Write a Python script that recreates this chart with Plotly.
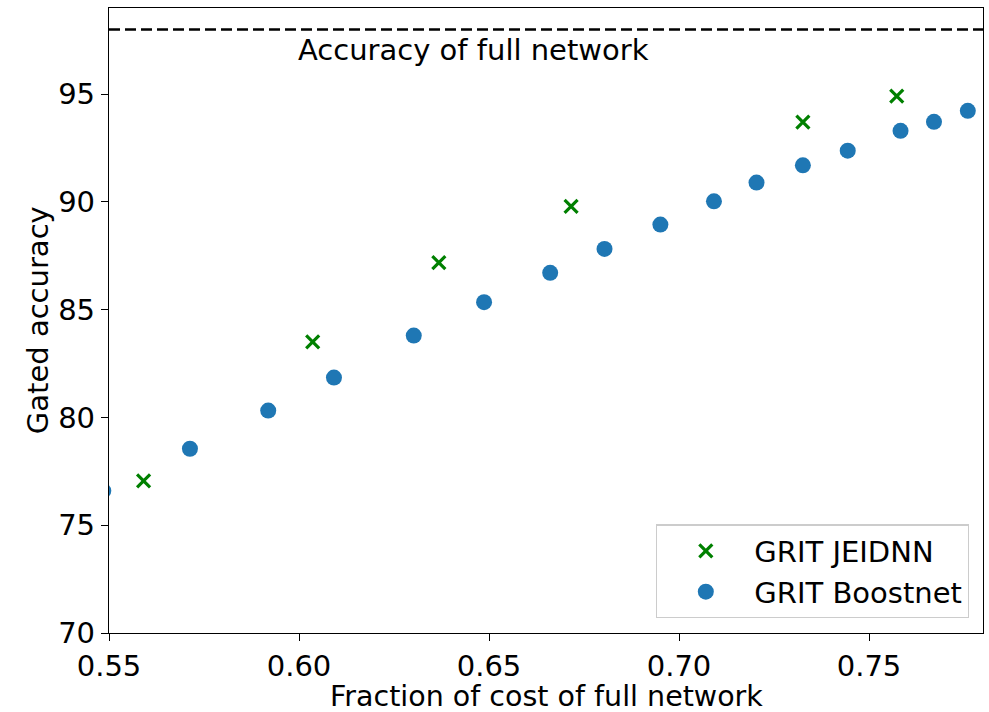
import plotly.graph_objects as go

# Fraction of the full network's cost vs. gated accuracy
boost_cost = [0.5485, 0.5713, 0.5919, 0.6092, 0.6302, 0.6487, 0.6661, 0.6804,
              0.6951, 0.7092, 0.7204, 0.7326, 0.7444, 0.7583, 0.7671, 0.7760]
boost_acc = [76.6, 78.55, 80.32, 81.85, 83.80, 85.35, 86.71, 87.82,
             88.95, 90.03, 90.90, 91.70, 92.38, 93.30, 93.72, 94.23]

jeidnn_cost = [0.5591, 0.6036, 0.6368, 0.6716, 0.7326, 0.7573]
jeidnn_acc = [77.06, 83.51, 87.19, 89.80, 93.70, 94.91]

full_acc = 98.0
x_range = [0.55, 0.78]
y_range = [70, 99]
x_ticks = [0.55, 0.60, 0.65, 0.70, 0.75]
y_ticks = [70, 75, 80, 85, 90, 95]

FONT = "DejaVu Sans"
FS = 29

fig = go.Figure()

fig.add_trace(go.Scatter(
    x=jeidnn_cost, y=jeidnn_acc, mode="markers", name="GRIT JEIDNN",
    marker=dict(symbol="x-thin", size=13, color="green",
                line=dict(color="green", width=3.2)),
))
fig.add_trace(go.Scatter(
    x=boost_cost, y=boost_acc, mode="markers", name="GRIT Boostnet",
    marker=dict(symbol="circle", size=16, color="#1f77b4", line=dict(width=0)),
))

# Reference line: accuracy of the full network
fig.add_trace(go.Scatter(
    x=x_range, y=[full_acc, full_acc], mode="lines", showlegend=False,
    line=dict(color="black", width=2.6, dash="11px,5px"), hoverinfo="skip",
))
fig.add_annotation(
    x=0.60, y=full_acc, xref="x", yref="y", text="Accuracy of full network",
    showarrow=False, xanchor="left", yanchor="top", yshift=-1, xshift=-3,
    font=dict(family=FONT, size=FS, color="black"),
)

# Axis titles
fig.add_annotation(
    x=0.5, y=-0.1265, xref="paper", yref="paper",
    text="Fraction of cost of full network", showarrow=False,
    xanchor="center", yanchor="bottom", yshift=-1.5, borderpad=0,
    font=dict(family=FONT, size=28.5, color="black"),
)
fig.add_annotation(
    x=-0.0816, y=0.5, xref="paper", yref="paper",
    text="Gated accuracy", showarrow=False, textangle=-90,
    xanchor="center", yanchor="middle",
    font=dict(family=FONT, size=FS, color="black"),
)

axis_common = dict(
    showgrid=False, zeroline=False, showline=True, linecolor="black",
    linewidth=1.3, mirror=True, ticks="outside", ticklen=7, tickwidth=1.3,
    tickcolor="black", tickfont=dict(family=FONT, size=FS, color="black"),
    automargin=False,
)

fig.update_xaxes(
    range=x_range, tickvals=x_ticks, ticktext=[f"{v:.2f}" for v in x_ticks],
    **axis_common,
)
fig.update_yaxes(
    range=y_range, tickvals=y_ticks, ticktext=[str(v) for v in y_ticks],
    **axis_common,
)

fig.update_layout(
    width=989, height=712,
    margin=dict(l=109, r=6, t=8, b=79),
    plot_bgcolor="white", paper_bgcolor="white",
    font=dict(family=FONT, size=FS, color="black"),
    legend=dict(
        x=0.984, y=0.0235, xanchor="right", yanchor="bottom",
        bgcolor="rgba(255,255,255,0.8)", bordercolor="#cccccc", borderwidth=1.3,
        font=dict(family=FONT, size=FS, color="black"),
        itemwidth=87, tracegroupgap=0,
    ),
    showlegend=True,
)

fig.write_html("out.html")
